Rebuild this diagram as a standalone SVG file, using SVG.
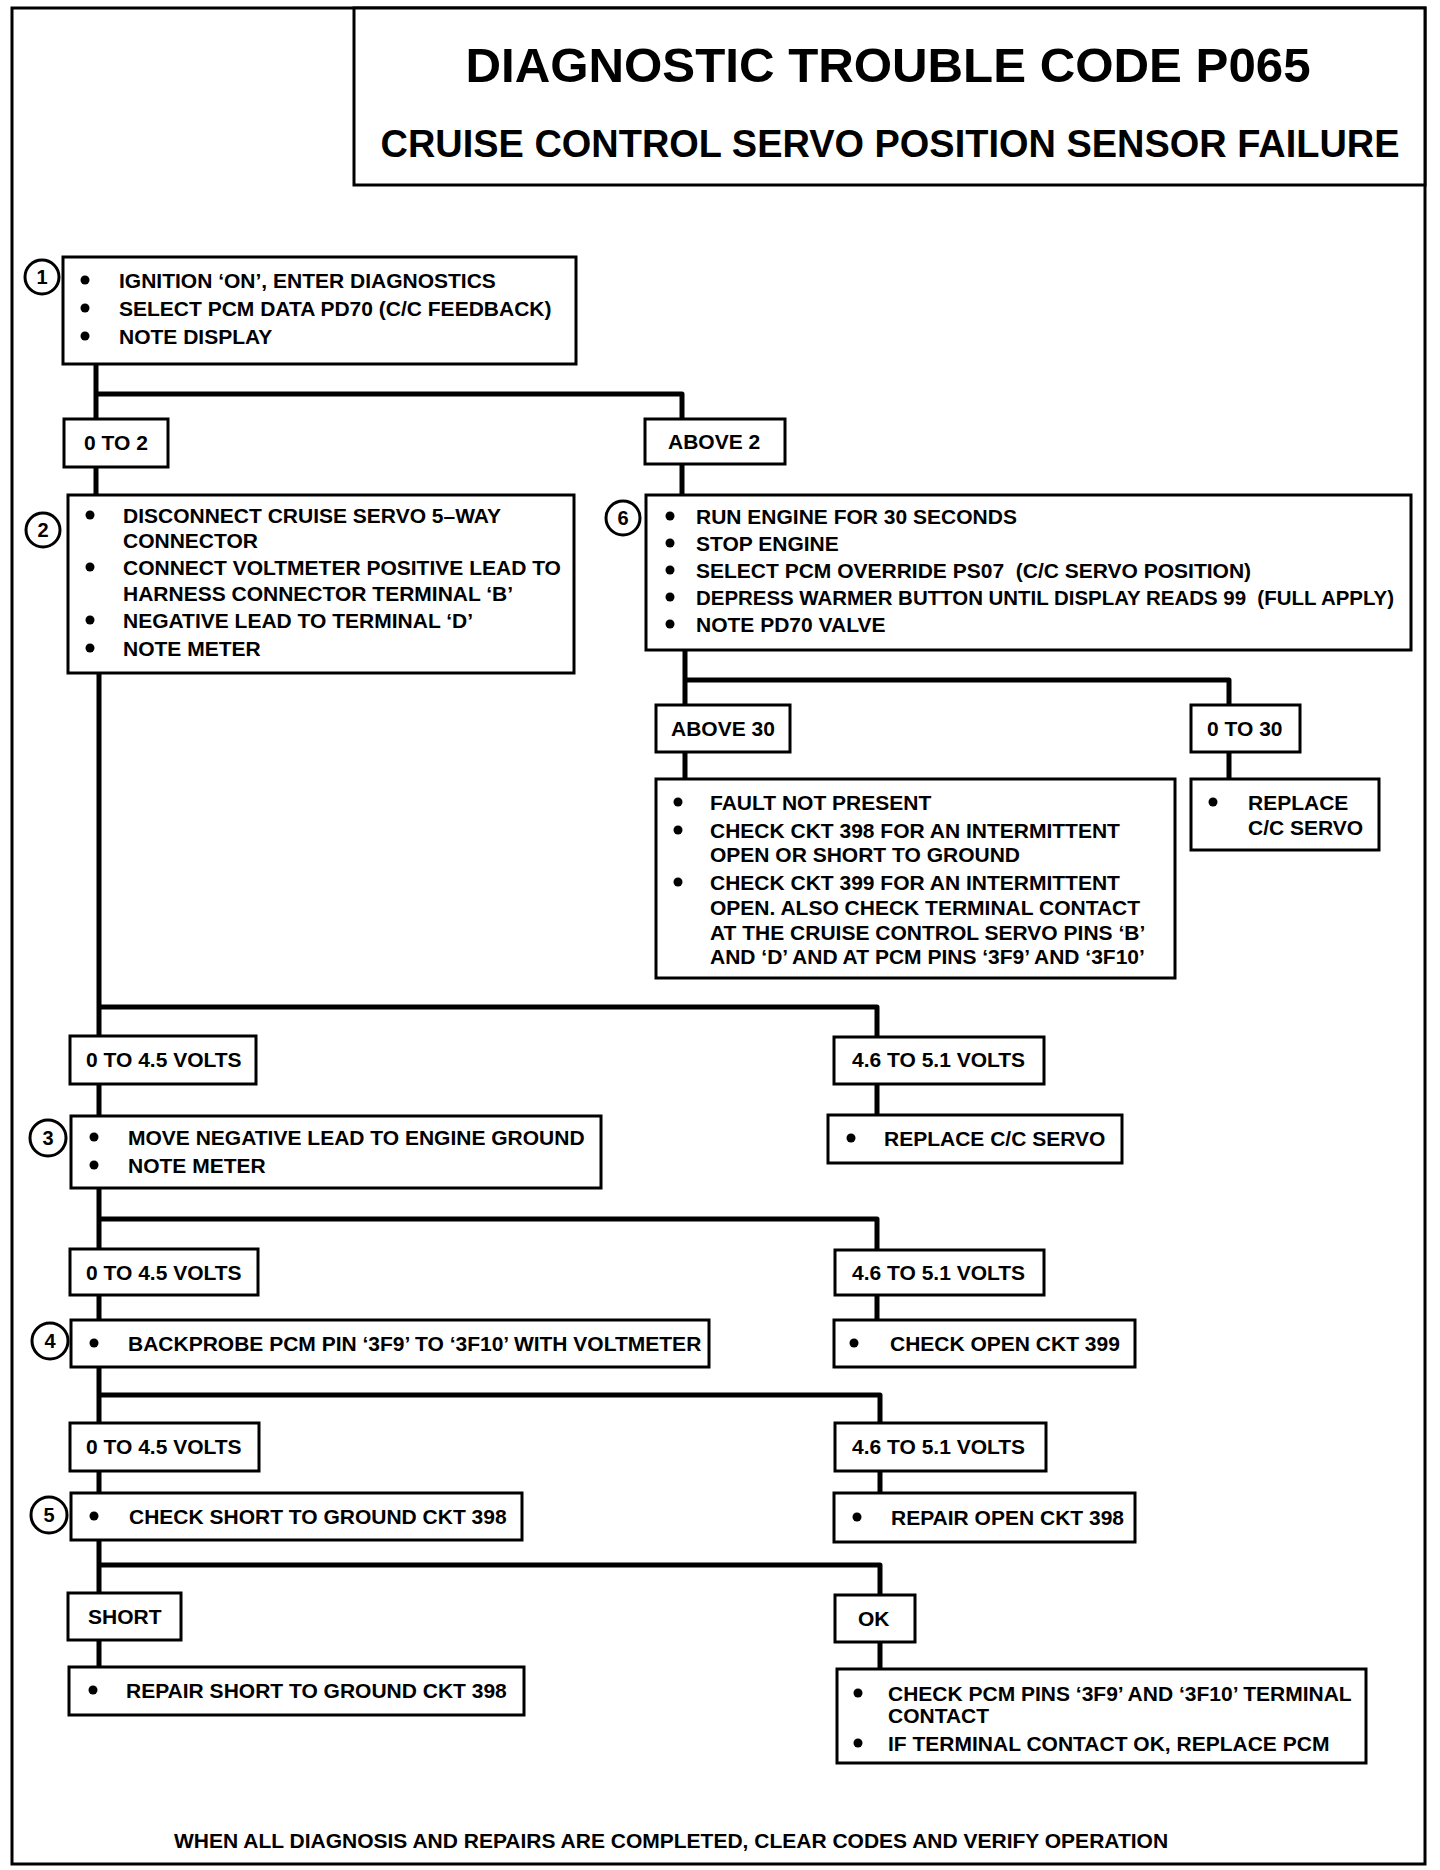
<svg xmlns="http://www.w3.org/2000/svg" width="1440" height="1870" viewBox="0 0 1440 1870">
<style>
.box{fill:#fff;stroke:#000;stroke-width:3}
.frame{fill:none;stroke:#000;stroke-width:3}
.t{font-family:"Liberation Sans",Arial,sans-serif;font-weight:bold;font-size:21px;fill:#000;white-space:pre}
.h{font-family:"Liberation Sans",Arial,sans-serif;font-weight:bold;fill:#000;text-anchor:middle}
.conn{fill:none;stroke:#000;stroke-width:5;stroke-linejoin:round}
.nc{fill:#fff;stroke:#000;stroke-width:3}
.n{font-family:"Liberation Sans",Arial,sans-serif;font-weight:bold;font-size:20px;fill:#000;text-anchor:middle}
.b{fill:#000}
</style>
<defs><circle id="dot" class="b" r="4.5"/></defs>
<rect width="1440" height="1870" fill="#fff"/>
<rect class="frame" x="12" y="8" width="1413" height="1856"/>
<g id="title">
<rect class="box" x="354" y="8" width="1071" height="177"/>
<text class="h" x="888" y="82" font-size="49" textLength="845" lengthAdjust="spacingAndGlyphs">DIAGNOSTIC TROUBLE CODE P065</text>
<text class="h" x="890" y="157" font-size="38" textLength="1019" lengthAdjust="spacingAndGlyphs">CRUISE CONTROL SERVO POSITION SENSOR FAILURE</text>
</g>
<g id="connectors">
<path class="conn" d="M96,364 V419 M96,394 H682 V418 M96,467 V495 M682,463 V495"/>
<path class="conn" d="M685,650 V705 M685,680 H1229 V705 M685,752 V779 M1229,752 V779"/>
<path class="conn" d="M99,673 V1036 M99,1007 H877 V1037 M99,1084 V1116 M877,1084 V1115"/>
<path class="conn" d="M99,1188 V1249 M99,1219 H877 V1250 M99,1295 V1320 M877,1295 V1320"/>
<path class="conn" d="M99,1367 V1423 M99,1395 H880 V1423 M99,1471 V1493 M880,1471 V1493"/>
<path class="conn" d="M99,1540 V1593 M99,1565 H880 V1595 M99,1640 V1667 M880,1642 V1669"/>
</g>
<g id="step1">
<rect class="box" x="63" y="257" width="513" height="107"/>
<circle class="nc" cx="42" cy="277" r="17"/><text class="n" x="42" y="284">1</text>
<use href="#dot" x="85" y="280"/><text class="t" x="119" y="288">IGNITION ‘ON’, ENTER DIAGNOSTICS</text>
<use href="#dot" x="85" y="308"/><text class="t" x="119" y="316">SELECT PCM DATA PD70 (C/C FEEDBACK)</text>
<use href="#dot" x="85" y="336"/><text class="t" x="119" y="344">NOTE DISPLAY</text>
</g>
<g id="lbl-0to2"><rect class="box" x="64" y="419" width="104" height="48"/><text class="t" x="84" y="450">0 TO 2</text></g>
<g id="lbl-above2"><rect class="box" x="645" y="419" width="140" height="45"/><text class="t" x="668" y="449">ABOVE 2</text></g>
<g id="step2">
<rect class="box" x="68" y="495" width="506" height="178"/>
<circle class="nc" cx="43" cy="530" r="17"/><text class="n" x="43" y="537">2</text>
<use href="#dot" x="90" y="515"/><text class="t" x="123" y="523">DISCONNECT CRUISE SERVO 5–WAY</text>
<text class="t" x="123" y="548">CONNECTOR</text>
<use href="#dot" x="90" y="567"/><text class="t" x="123" y="575">CONNECT VOLTMETER POSITIVE LEAD TO</text>
<text class="t" x="123" y="601">HARNESS CONNECTOR TERMINAL ‘B’</text>
<use href="#dot" x="90" y="620"/><text class="t" x="123" y="628">NEGATIVE LEAD TO TERMINAL ‘D’</text>
<use href="#dot" x="90" y="648"/><text class="t" x="123" y="656">NOTE METER</text>
</g>
<g id="step6">
<rect class="box" x="646" y="495" width="765" height="155"/>
<circle class="nc" cx="623" cy="518" r="17"/><text class="n" x="623" y="525">6</text>
<use href="#dot" x="670" y="516"/><text class="t" x="696" y="524">RUN ENGINE FOR 30 SECONDS</text>
<use href="#dot" x="670" y="543"/><text class="t" x="696" y="551">STOP ENGINE</text>
<use href="#dot" x="670" y="570"/><text class="t" x="696" y="578">SELECT PCM OVERRIDE PS07  (C/C SERVO POSITION)</text>
<use href="#dot" x="670" y="597"/><text class="t" x="696" y="605" textLength="698" lengthAdjust="spacingAndGlyphs">DEPRESS WARMER BUTTON UNTIL DISPLAY READS 99  (FULL APPLY)</text>
<use href="#dot" x="670" y="624"/><text class="t" x="696" y="632">NOTE PD70 VALVE</text>
</g>
<g id="lbl-above30"><rect class="box" x="656" y="705" width="134" height="47"/><text class="t" x="671" y="736">ABOVE 30</text></g>
<g id="lbl-0to30"><rect class="box" x="1191" y="705" width="109" height="47"/><text class="t" x="1207" y="736">0 TO 30</text></g>
<g id="fault-not-present">
<rect class="box" x="656" y="779" width="519" height="199"/>
<use href="#dot" x="678" y="802"/><text class="t" x="710" y="810">FAULT NOT PRESENT</text>
<use href="#dot" x="678" y="830"/><text class="t" x="710" y="838">CHECK CKT 398 FOR AN INTERMITTENT</text>
<text class="t" x="710" y="862">OPEN OR SHORT TO GROUND</text>
<use href="#dot" x="678" y="882"/><text class="t" x="710" y="890">CHECK CKT 399 FOR AN INTERMITTENT</text>
<text class="t" x="710" y="915">OPEN. ALSO CHECK TERMINAL CONTACT</text>
<text class="t" x="710" y="940">AT THE CRUISE CONTROL SERVO PINS ‘B’</text>
<text class="t" x="710" y="964">AND ‘D’ AND AT PCM PINS ‘3F9’ AND ‘3F10’</text>
</g>
<g id="replace-servo-1">
<rect class="box" x="1191" y="779" width="188" height="71"/>
<use href="#dot" x="1213" y="802"/><text class="t" x="1248" y="810">REPLACE</text>
<text class="t" x="1248" y="835">C/C SERVO</text>
</g>
<g id="lbl-l1"><rect class="box" x="70" y="1036" width="186" height="48"/><text class="t" x="86" y="1067">0 TO 4.5 VOLTS</text></g>
<g id="lbl-r1"><rect class="box" x="834" y="1037" width="210" height="47"/><text class="t" x="852" y="1067">4.6 TO 5.1 VOLTS</text></g>
<g id="step3">
<rect class="box" x="71" y="1116" width="530" height="72"/>
<circle class="nc" cx="48" cy="1138" r="18"/><text class="n" x="48" y="1145">3</text>
<use href="#dot" x="94" y="1137"/><text class="t" x="128" y="1145">MOVE NEGATIVE LEAD TO ENGINE GROUND</text>
<use href="#dot" x="94" y="1165"/><text class="t" x="128" y="1173">NOTE METER</text>
</g>
<g id="replace-servo-2">
<rect class="box" x="828" y="1115" width="294" height="48"/>
<use href="#dot" x="851" y="1138"/><text class="t" x="884" y="1146">REPLACE C/C SERVO</text>
</g>
<g id="lbl-l2"><rect class="box" x="70" y="1249" width="188" height="46"/><text class="t" x="86" y="1280">0 TO 4.5 VOLTS</text></g>
<g id="lbl-r2"><rect class="box" x="835" y="1250" width="209" height="45"/><text class="t" x="852" y="1280">4.6 TO 5.1 VOLTS</text></g>
<g id="step4">
<rect class="box" x="71" y="1320" width="638" height="47"/>
<circle class="nc" cx="50" cy="1341" r="18"/><text class="n" x="50" y="1348">4</text>
<use href="#dot" x="94" y="1343"/><text class="t" x="128" y="1351">BACKPROBE PCM PIN ‘3F9’ TO ‘3F10’ WITH VOLTMETER</text>
</g>
<g id="check-open-399">
<rect class="box" x="834" y="1320" width="301" height="47"/>
<use href="#dot" x="854" y="1343"/><text class="t" x="890" y="1351">CHECK OPEN CKT 399</text>
</g>
<g id="lbl-l3"><rect class="box" x="70" y="1423" width="189" height="48"/><text class="t" x="86" y="1454">0 TO 4.5 VOLTS</text></g>
<g id="lbl-r3"><rect class="box" x="835" y="1423" width="211" height="48"/><text class="t" x="852" y="1454">4.6 TO 5.1 VOLTS</text></g>
<g id="step5">
<rect class="box" x="71" y="1493" width="451" height="47"/>
<circle class="nc" cx="49" cy="1515" r="18"/><text class="n" x="49" y="1522">5</text>
<use href="#dot" x="94" y="1516"/><text class="t" x="129" y="1524">CHECK SHORT TO GROUND CKT 398</text>
</g>
<g id="repair-open-398">
<rect class="box" x="834" y="1493" width="301" height="49"/>
<use href="#dot" x="857" y="1517"/><text class="t" x="891" y="1525">REPAIR OPEN CKT 398</text>
</g>
<g id="lbl-short"><rect class="box" x="68" y="1593" width="113" height="47"/><text class="t" x="88" y="1624">SHORT</text></g>
<g id="lbl-ok"><rect class="box" x="835" y="1595" width="80" height="47"/><text class="t" x="858" y="1626">OK</text></g>
<g id="repair-short-398">
<rect class="box" x="69" y="1667" width="455" height="48"/>
<use href="#dot" x="93" y="1690"/><text class="t" x="126" y="1698">REPAIR SHORT TO GROUND CKT 398</text>
</g>
<g id="check-pcm-pins">
<rect class="box" x="837" y="1669" width="529" height="94"/>
<use href="#dot" x="858" y="1693"/><text class="t" x="888" y="1701">CHECK PCM PINS ‘3F9’ AND ‘3F10’ TERMINAL</text>
<text class="t" x="888" y="1723">CONTACT</text>
<use href="#dot" x="858" y="1743"/><text class="t" x="888" y="1751">IF TERMINAL CONTACT OK, REPLACE PCM</text>
</g>
<text class="t" x="174" y="1848">WHEN ALL DIAGNOSIS AND REPAIRS ARE COMPLETED, CLEAR CODES AND VERIFY OPERATION</text>
</svg>
